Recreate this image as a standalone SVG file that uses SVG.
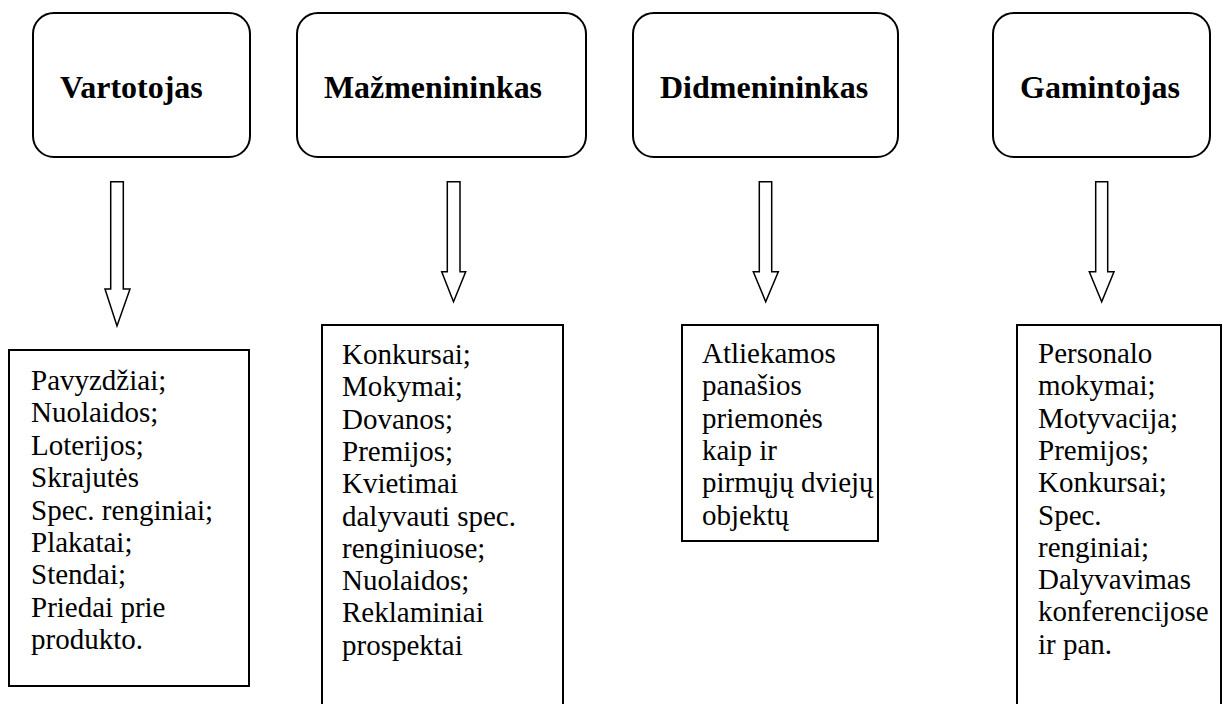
<svg xmlns="http://www.w3.org/2000/svg" width="1226" height="704" viewBox="0 0 1226 704">
<style>
.head{fill:#fff;stroke:#000;stroke-width:2}
.box{fill:#fff;stroke:#000;stroke-width:2}
.arr{fill:#fff;stroke:#000;stroke-width:1.5;stroke-linejoin:miter}
.ht{font-family:"Liberation Serif","Times New Roman",serif;font-weight:bold;font-size:32px;fill:#000}
.bt{font-family:"Liberation Serif","Times New Roman",serif;font-size:29px;fill:#000}
</style>
<rect width="1226" height="704" fill="#fff"/>
<g id="vartotojas">
<rect class="head" x="33" y="13" width="217" height="144" rx="21"/>
<text class="ht" x="60" y="98">Vartotojas</text>
</g>
<g id="mazmenininkas">
<rect class="head" x="297" y="13" width="289" height="144" rx="21"/>
<text class="ht" x="324" y="98" textLength="218" lengthAdjust="spacingAndGlyphs">Mažmenininkas</text>
</g>
<g id="didmenininkas">
<rect class="head" x="633" y="13" width="265" height="144" rx="21"/>
<text class="ht" x="660" y="98">Didmenininkas</text>
</g>
<g id="gamintojas">
<rect class="head" x="993" y="13" width="217" height="144" rx="21"/>
<text class="ht" x="1020" y="98">Gamintojas</text>
</g>
<g id="connectors">
<path class="arr" d="M110.7,181.7 H123.3 V289 H130 L117,326 L105,289 H110.7 Z"/>
<path class="arr" d="M447.3,181.7 H460 V271.7 H465.7 L453.5,301.7 L441.7,271.7 H447.3 Z"/>
<path class="arr" d="M759.3,181.7 H771.7 V271.7 H778.3 L765.7,301.7 L753.3,271.7 H759.3 Z"/>
<path class="arr" d="M1095.7,181.7 H1107.7 V271.7 H1114 L1101.7,301.7 L1089.3,271.7 H1095.7 Z"/>
</g>
<g id="vartotojas-priemones">
<rect class="box" x="9" y="350" width="240" height="336"/>
<text class="bt" x="31" y="390">
<tspan x="31" dy="0">Pavyzdžiai;</tspan>
<tspan x="31" dy="32.4">Nuolaidos;</tspan>
<tspan x="31" dy="32.4">Loterijos;</tspan>
<tspan x="31" dy="32.4">Skrajutės</tspan>
<tspan x="31" dy="32.4">Spec. renginiai;</tspan>
<tspan x="31" dy="32.4">Plakatai;</tspan>
<tspan x="31" dy="32.4">Stendai;</tspan>
<tspan x="31" dy="32.4">Priedai prie</tspan>
<tspan x="31" dy="32.4">produkto.</tspan>
</text>
</g>
<g id="mazmenininkas-priemones">
<rect class="box" x="322" y="325" width="241" height="400"/>
<text class="bt" x="342" y="364">
<tspan x="342" dy="0">Konkursai;</tspan>
<tspan x="342" dy="32.3">Mokymai;</tspan>
<tspan x="342" dy="32.3">Dovanos;</tspan>
<tspan x="342" dy="32.3">Premijos;</tspan>
<tspan x="342" dy="32.3">Kvietimai</tspan>
<tspan x="342" dy="32.3">dalyvauti spec.</tspan>
<tspan x="342" dy="32.3">renginiuose;</tspan>
<tspan x="342" dy="32.3">Nuolaidos;</tspan>
<tspan x="342" dy="32.3">Reklaminiai</tspan>
<tspan x="342" dy="32.3">prospektai</tspan>
</text>
</g>
<g id="didmenininkas-priemones">
<rect class="box" x="682" y="325" width="196" height="216"/>
<text class="bt" x="702" y="363">
<tspan x="702" dy="0">Atliekamos</tspan>
<tspan x="702" dy="32.3">panašios</tspan>
<tspan x="702" dy="32.3">priemonės</tspan>
<tspan x="702" dy="32.3">kaip ir</tspan>
<tspan x="702" dy="32.3">pirmųjų dviejų</tspan>
<tspan x="702" dy="32.3">objektų</tspan>
</text>
</g>
<g id="gamintojas-priemones">
<rect class="box" x="1017" y="325" width="204" height="400"/>
<text class="bt" x="1038" y="363">
<tspan x="1038" dy="0">Personalo</tspan>
<tspan x="1038" dy="32.3">mokymai;</tspan>
<tspan x="1038" dy="32.3">Motyvacija;</tspan>
<tspan x="1038" dy="32.3">Premijos;</tspan>
<tspan x="1038" dy="32.3">Konkursai;</tspan>
<tspan x="1038" dy="32.3">Spec.</tspan>
<tspan x="1038" dy="32.3">renginiai;</tspan>
<tspan x="1038" dy="32.3">Dalyvavimas</tspan>
<tspan x="1038" dy="32.3">konferencijose</tspan>
<tspan x="1038" dy="32.3">ir pan.</tspan>
</text>
</g>
</svg>
